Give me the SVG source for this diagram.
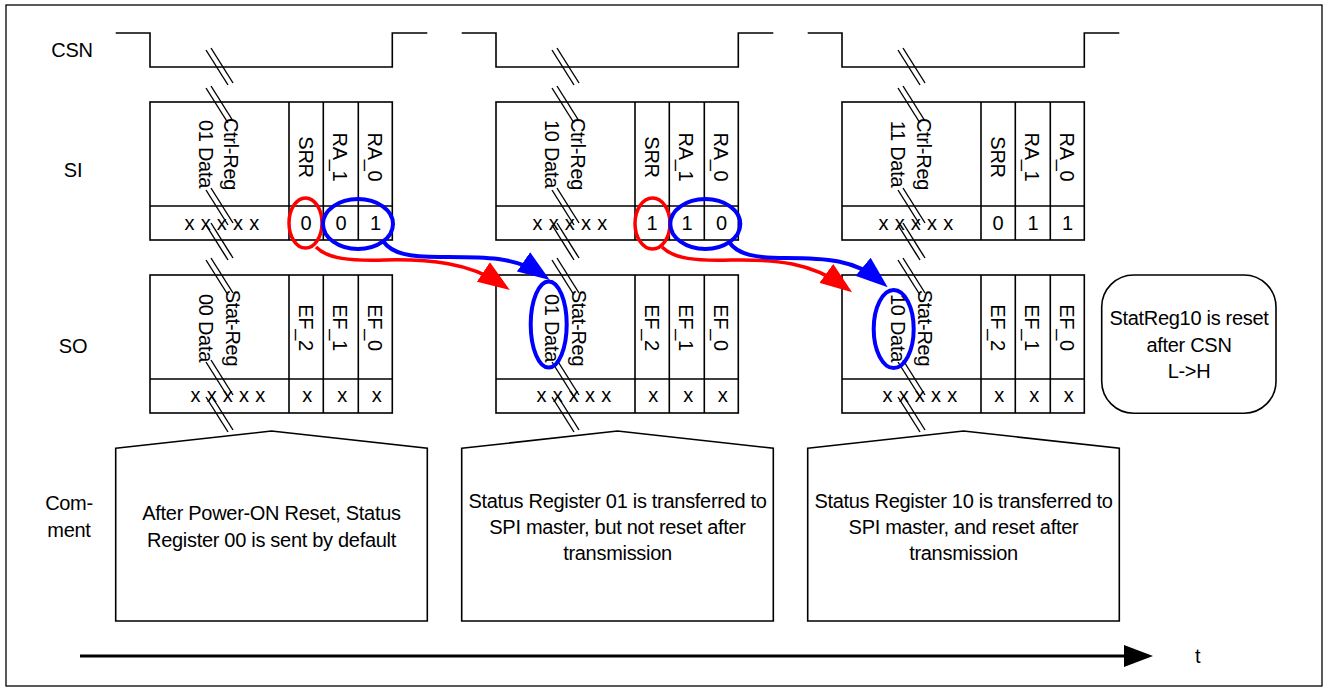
<svg xmlns="http://www.w3.org/2000/svg" xmlns:xlink="http://www.w3.org/1999/xlink" width="1330" height="695" viewBox="0 0 1330 695">
<style>
.ln{fill:none;stroke:#000;stroke-width:1.6}
.t{font-family:"Liberation Sans",Arial,sans-serif;font-size:20px;fill:#000;letter-spacing:-0.3px}
.m{text-anchor:middle}
.v{letter-spacing:0.3px}
.red{fill:none;stroke:#f00;stroke-width:3.5}
.blue{fill:none;stroke:#00f;stroke-width:4}
.brk line{stroke:#000;stroke-width:1.4}
</style>
<defs>
<g id="brk" class="brk"><line x1="0" y1="2" x2="22" y2="37"/><line x1="5" y1="0" x2="27" y2="35"/></g>
<marker id="ahR" markerUnits="userSpaceOnUse" markerWidth="32" markerHeight="24" viewBox="0 0 30 22" refX="20" refY="11" orient="auto"><path d="M0,0 L30,11 L0,22 z" fill="#f00"/></marker>
<marker id="ahB" markerUnits="userSpaceOnUse" markerWidth="32" markerHeight="24" viewBox="0 0 30 22" refX="20" refY="11" orient="auto"><path d="M0,0 L30,11 L0,22 z" fill="#00f"/></marker>
</defs>
<rect x="6" y="5" width="1316" height="681" fill="#fff" stroke="#000" stroke-width="1.3"/>

<g id="labels">
<text class="t m" x="72" y="57">CSN</text>
<text class="t m" x="73" y="177">SI</text>
<text class="t m" x="73" y="353">SO</text>
<text class="t m" x="69" y="510">Com-</text>
<text class="t m" x="69" y="537">ment</text>
<text class="t" x="1195" y="663">t</text>
</g>

<!-- Column 1 -->
<g id="col1">
<g id="csn1"><path class="ln" d="M115.7,33 H150 V67 H392.3 V33 H427.3"/></g>
<g id="si1">
<rect class="ln" x="150" y="102" width="242.3" height="138"/>
<path class="ln" d="M150,206 H392.3 M289,102 V240 M323.3,102 V240 M358.3,102 V240"/>
<text class="t m" transform="translate(224,154) rotate(90)">Ctrl-Reg</text>
<text class="t m" transform="translate(199,154) rotate(90)">01 Data</text>
<text class="t m" transform="translate(298.5,157) rotate(90)">SRR</text>
<text class="t m" transform="translate(333,157) rotate(90)">RA_1</text>
<text class="t m" transform="translate(368,157) rotate(90)">RA_0</text>
<text class="t m v" x="222" y="230">x x x x x</text>
<text class="t m" x="306" y="230">0</text>
<text class="t m" x="341" y="230">0</text>
<text class="t m" x="375.5" y="230">1</text>
</g>
<g id="so1">
<rect class="ln" x="150" y="275" width="242.3" height="138"/>
<path class="ln" d="M150,379 H392.3 M289,275 V413 M323.3,275 V413 M358.3,275 V413"/>
<text class="t m" transform="translate(226,328) rotate(90)">Stat-Reg</text>
<text class="t m" transform="translate(199,328) rotate(90)">00 Data</text>
<text class="t m" transform="translate(298.5,327.5) rotate(90)">EF_2</text>
<text class="t m" transform="translate(333,327.5) rotate(90)">EF_1</text>
<text class="t m" transform="translate(368,327.5) rotate(90)">EF_0</text>
<text class="t m v" x="228" y="402">x x x x x</text>
<text class="t m" x="307" y="402">x</text>
<text class="t m" x="342" y="402">x</text>
<text class="t m" x="376.5" y="402">x</text>
</g>
<g id="cm1">
<path class="ln" d="M115.7,448.3 L271.5,431 L427.3,448.3 V621 H115.7 Z"/>
<text class="t m" x="271.5" y="520">After Power-ON Reset, Status</text>
<text class="t m" x="271.5" y="546.5">Register 00 is sent by default</text>
</g>
<g id="brk1">
<use xlink:href="#brk" x="206" y="48"/><use xlink:href="#brk" x="206" y="86"/>
<use xlink:href="#brk" x="206" y="188"/><use xlink:href="#brk" x="206" y="223"/>
<use xlink:href="#brk" x="206" y="258"/><use xlink:href="#brk" x="206" y="360"/>
<use xlink:href="#brk" x="206" y="395"/>
</g>
</g>

<!-- Column 2 -->
<g id="col2" transform="translate(346,0)">
<g id="csn2"><path class="ln" d="M115.7,33 H150 V67 H392.3 V33 H427.3"/></g>
<g id="si2">
<rect class="ln" x="150" y="102" width="242.3" height="138"/>
<path class="ln" d="M150,206 H392.3 M289,102 V240 M323.3,102 V240 M358.3,102 V240"/>
<text class="t m" transform="translate(225,154) rotate(90)">Ctrl-Reg</text>
<text class="t m" transform="translate(199,154) rotate(90)">10 Data</text>
<text class="t m" transform="translate(298.5,157) rotate(90)">SRR</text>
<text class="t m" transform="translate(333,157) rotate(90)">RA_1</text>
<text class="t m" transform="translate(368,157) rotate(90)">RA_0</text>
<text class="t m v" x="224" y="230">x x x x x</text>
<text class="t m" x="306" y="230">1</text>
<text class="t m" x="341" y="230">1</text>
<text class="t m" x="375.5" y="230">0</text>
</g>
<g id="so2">
<rect class="ln" x="150" y="275" width="242.3" height="138"/>
<path class="ln" d="M150,379 H392.3 M289,275 V413 M323.3,275 V413 M358.3,275 V413"/>
<text class="t m" transform="translate(226,328) rotate(90)">Stat-Reg</text>
<text class="t m" transform="translate(199,328) rotate(90)">01 Data</text>
<text class="t m" transform="translate(298.5,327.5) rotate(90)">EF_2</text>
<text class="t m" transform="translate(333,327.5) rotate(90)">EF_1</text>
<text class="t m" transform="translate(368,327.5) rotate(90)">EF_0</text>
<text class="t m v" x="228" y="402">x x x x x</text>
<text class="t m" x="307" y="402">x</text>
<text class="t m" x="342" y="402">x</text>
<text class="t m" x="376.5" y="402">x</text>
</g>
<g id="cm2">
<path class="ln" d="M115.7,448.3 L271.5,431 L427.3,448.3 V621 H115.7 Z"/>
<text class="t m" x="271.5" y="508">Status Register 01 is transferred to</text>
<text class="t m" x="271.5" y="534">SPI master, but not reset after</text>
<text class="t m" x="271.5" y="560">transmission</text>
</g>
<g id="brk2">
<use xlink:href="#brk" x="206" y="48"/><use xlink:href="#brk" x="206" y="86"/>
<use xlink:href="#brk" x="206" y="188"/><use xlink:href="#brk" x="206" y="223"/>
<use xlink:href="#brk" x="206" y="258"/><use xlink:href="#brk" x="206" y="360"/>
<use xlink:href="#brk" x="206" y="395"/>
</g>
</g>

<!-- Column 3 -->
<g id="col3" transform="translate(692,0)">
<g id="csn3"><path class="ln" d="M115.7,33 H150 V67 H392.3 V33 H427.3"/></g>
<g id="si3">
<rect class="ln" x="150" y="102" width="242.3" height="138"/>
<path class="ln" d="M150,206 H392.3 M289,102 V240 M323.3,102 V240 M358.3,102 V240"/>
<text class="t m" transform="translate(225,154) rotate(90)">Ctrl-Reg</text>
<text class="t m" transform="translate(199,154) rotate(90)">11 Data</text>
<text class="t m" transform="translate(298.5,157) rotate(90)">SRR</text>
<text class="t m" transform="translate(333,157) rotate(90)">RA_1</text>
<text class="t m" transform="translate(368,157) rotate(90)">RA_0</text>
<text class="t m v" x="224" y="230">x x x x x</text>
<text class="t m" x="306" y="230">0</text>
<text class="t m" x="341" y="230">1</text>
<text class="t m" x="375.5" y="230">1</text>
</g>
<g id="so3">
<rect class="ln" x="150" y="275" width="242.3" height="138"/>
<path class="ln" d="M150,379 H392.3 M289,275 V413 M323.3,275 V413 M358.3,275 V413"/>
<text class="t m" transform="translate(226,328) rotate(90)">Stat-Reg</text>
<text class="t m" transform="translate(199,328) rotate(90)">10 Data</text>
<text class="t m" transform="translate(298.5,327.5) rotate(90)">EF_2</text>
<text class="t m" transform="translate(333,327.5) rotate(90)">EF_1</text>
<text class="t m" transform="translate(368,327.5) rotate(90)">EF_0</text>
<text class="t m v" x="228" y="402">x x x x x</text>
<text class="t m" x="307" y="402">x</text>
<text class="t m" x="342" y="402">x</text>
<text class="t m" x="376.5" y="402">x</text>
</g>
<g id="cm3">
<path class="ln" d="M115.7,448.3 L271.5,431 L427.3,448.3 V621 H115.7 Z"/>
<text class="t m" x="271.5" y="508">Status Register 10 is transferred to</text>
<text class="t m" x="271.5" y="534">SPI master, and reset after</text>
<text class="t m" x="271.5" y="560">transmission</text>
</g>
<g id="brk3">
<use xlink:href="#brk" x="206" y="48"/><use xlink:href="#brk" x="206" y="86"/>
<use xlink:href="#brk" x="206" y="188"/><use xlink:href="#brk" x="206" y="223"/>
<use xlink:href="#brk" x="206" y="258"/><use xlink:href="#brk" x="206" y="360"/>
<use xlink:href="#brk" x="206" y="395"/>
</g>
</g>

<g id="note">
<rect class="ln" x="1101.7" y="275" width="174.3" height="138.3" rx="32" ry="32"/>
<text class="t m" x="1189" y="325">StatReg10 is reset</text>
<text class="t m" x="1189" y="351.7">after CSN</text>
<text class="t m" x="1189" y="378.3">L-&gt;H</text>
</g>

<g id="connectors">
<ellipse class="red" cx="305.5" cy="223" rx="16.5" ry="25"/>
<ellipse class="blue" cx="358" cy="224" rx="35" ry="25"/>
<ellipse class="red" cx="652.5" cy="223.5" rx="17.5" ry="25.5"/>
<ellipse class="blue" cx="705.3" cy="224" rx="35" ry="25"/>
<ellipse class="blue" cx="548.7" cy="324.5" rx="18" ry="43"/>
<ellipse class="blue" cx="893.7" cy="329" rx="20" ry="39"/>
<path class="red" marker-end="url(#ahR)" d="M316,247 C328,259 350,261 385,260 C430,259 470,263 501,284"/>
<path class="blue" marker-end="url(#ahB)" d="M383,241 C392,254 410,257 440,257 C480,257 515,256 541,274"/>
<path class="red" marker-end="url(#ahR)" d="M662,247 C674,259 696,261 731,260 C776,259 812,263 843.5,286"/>
<path class="blue" marker-end="url(#ahB)" d="M729,242 C738,255 756,258 786,258 C826,258 855,260 879.5,280.4"/>
</g>

<g id="axis">
<line x1="80" y1="656" x2="1126" y2="656" stroke="#000" stroke-width="3"/>
<path d="M1124,645 L1153,656 L1124,667 Z" fill="#000"/>
</g>
</svg>
